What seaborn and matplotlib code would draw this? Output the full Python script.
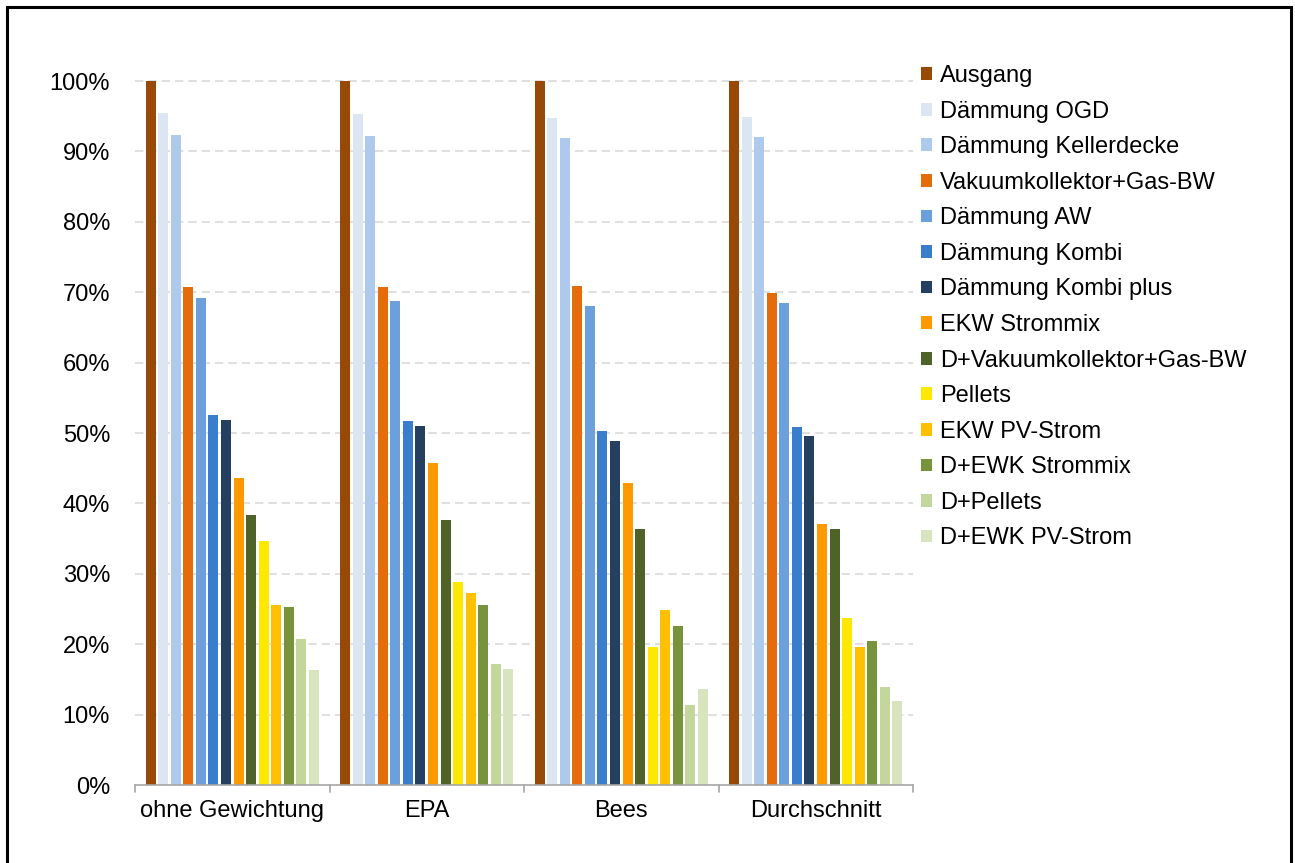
import matplotlib
matplotlib.use("Agg")
import matplotlib.pyplot as plt
import seaborn as sns
import pandas as pd
import numpy as np
from matplotlib.patches import Rectangle
from matplotlib.ticker import FixedLocator, FuncFormatter

groups = ["ohne Gewichtung", "EPA", "Bees", "Durchschnitt"]
series = ["Ausgang", "Dämmung OGD", "Dämmung Kellerdecke", "Vakuumkollektor+Gas-BW",
          "Dämmung AW", "Dämmung Kombi", "Dämmung Kombi plus", "EKW Strommix",
          "D+Vakuumkollektor+Gas-BW", "Pellets", "EKW PV-Strom", "D+EWK Strommix",
          "D+Pellets", "D+EWK PV-Strom"]
colors = ["#984807", "#DCE6F2", "#ADC9EC", "#E46C0A", "#6CA0DC", "#3A7DCD", "#243F60",
          "#FF9900", "#4F6228", "#FFE800", "#FFC000", "#77933C", "#C3D69B", "#D7E4BD"]

ohne_gewichtung = [1.000, 0.954, 0.924, 0.708, 0.692, 0.526, 0.519, 0.436, 0.384, 0.346, 0.255, 0.253, 0.208, 0.164]
epa             = [1.000, 0.953, 0.922, 0.708, 0.688, 0.517, 0.510, 0.458, 0.376, 0.289, 0.273, 0.256, 0.172, 0.165]
bees            = [1.000, 0.948, 0.919, 0.709, 0.680, 0.503, 0.488, 0.429, 0.363, 0.196, 0.249, 0.226, 0.113, 0.137]
durchschnitt    = [1.000, 0.949, 0.920, 0.699, 0.684, 0.509, 0.496, 0.371, 0.364, 0.237, 0.196, 0.204, 0.139, 0.119]

rows = []
for g, vals in zip(groups, [ohne_gewichtung, epa, bees, durchschnitt]):
    for s, v in zip(series, vals):
        rows.append({"Gruppe": g, "Variante": s, "Wert": v})
df = pd.DataFrame(rows)

sns.set_theme(style="white")
plt.rcParams['font.family'] = ['Liberation Sans', 'DejaVu Sans']

fig = plt.figure(figsize=(12.95, 8.63), dpi=100)
ax = fig.add_axes([135/1295, 1 - 785/863, (913-135)/1295, (785-81)/863])

sns.barplot(data=df, x="Gruppe", y="Wert", hue="Variante", order=groups, hue_order=series,
            palette=colors, width=0.9, gap=0.2, ax=ax, legend=True, saturation=1,
            linewidth=0, edgecolor="none")

ax.set_ylim(0, 1.0)
ax.set_xlim(-0.5, 3.5)
ax.set_xlabel("")
ax.set_ylabel("")
ax.yaxis.set_major_locator(FixedLocator(np.arange(0, 1.01, 0.1)))
ax.yaxis.set_major_formatter(FuncFormatter(lambda v, p: f"{v*100:.0f}%"))
ax.tick_params(axis="y", length=0, labelsize=17, pad=18, colors="#000000")
ax.tick_params(axis="x", length=0, labelsize=17, pad=11, colors="#000000")
ax.set_xticks(range(len(groups)))
ax.set_xticklabels(groups)

for y in np.arange(0.1, 1.01, 0.1):
    ax.axhline(y, color="#D9D9D9", linestyle=(0, (5, 3)), linewidth=1.2, zorder=0, clip_on=False)

for sp in ["left", "right", "top"]:
    ax.spines[sp].set_visible(False)
ax.spines["bottom"].set_color("#A6A6A6")
ax.spines["bottom"].set_linewidth(1.2)

# group separator ticks
for xb in np.arange(-0.5, 3.51, 1.0):
    ax.plot([xb, xb], [0, -0.01], color="#A6A6A6", linewidth=1.2, clip_on=False,
            transform=ax.transData)

leg = ax.legend(loc="upper left", frameon=False,
                fontsize=17, handlelength=0.45, handleheight=0.45, handletextpad=0.35,
                labelspacing=0.575, borderaxespad=0.0, borderpad=0.0, labelcolor="#000000")
leg.set_bbox_to_anchor((921/1295, 1 - 65/863), transform=fig.transFigure)

fig.patches.append(Rectangle((7/1295, -0.02), (1291-7)/1295, 1 - 7/863 + 0.02,
                             transform=fig.transFigure, fill=False, edgecolor="black",
                             linewidth=2.2))

fig.savefig("out.png", dpi=100, facecolor="white")
